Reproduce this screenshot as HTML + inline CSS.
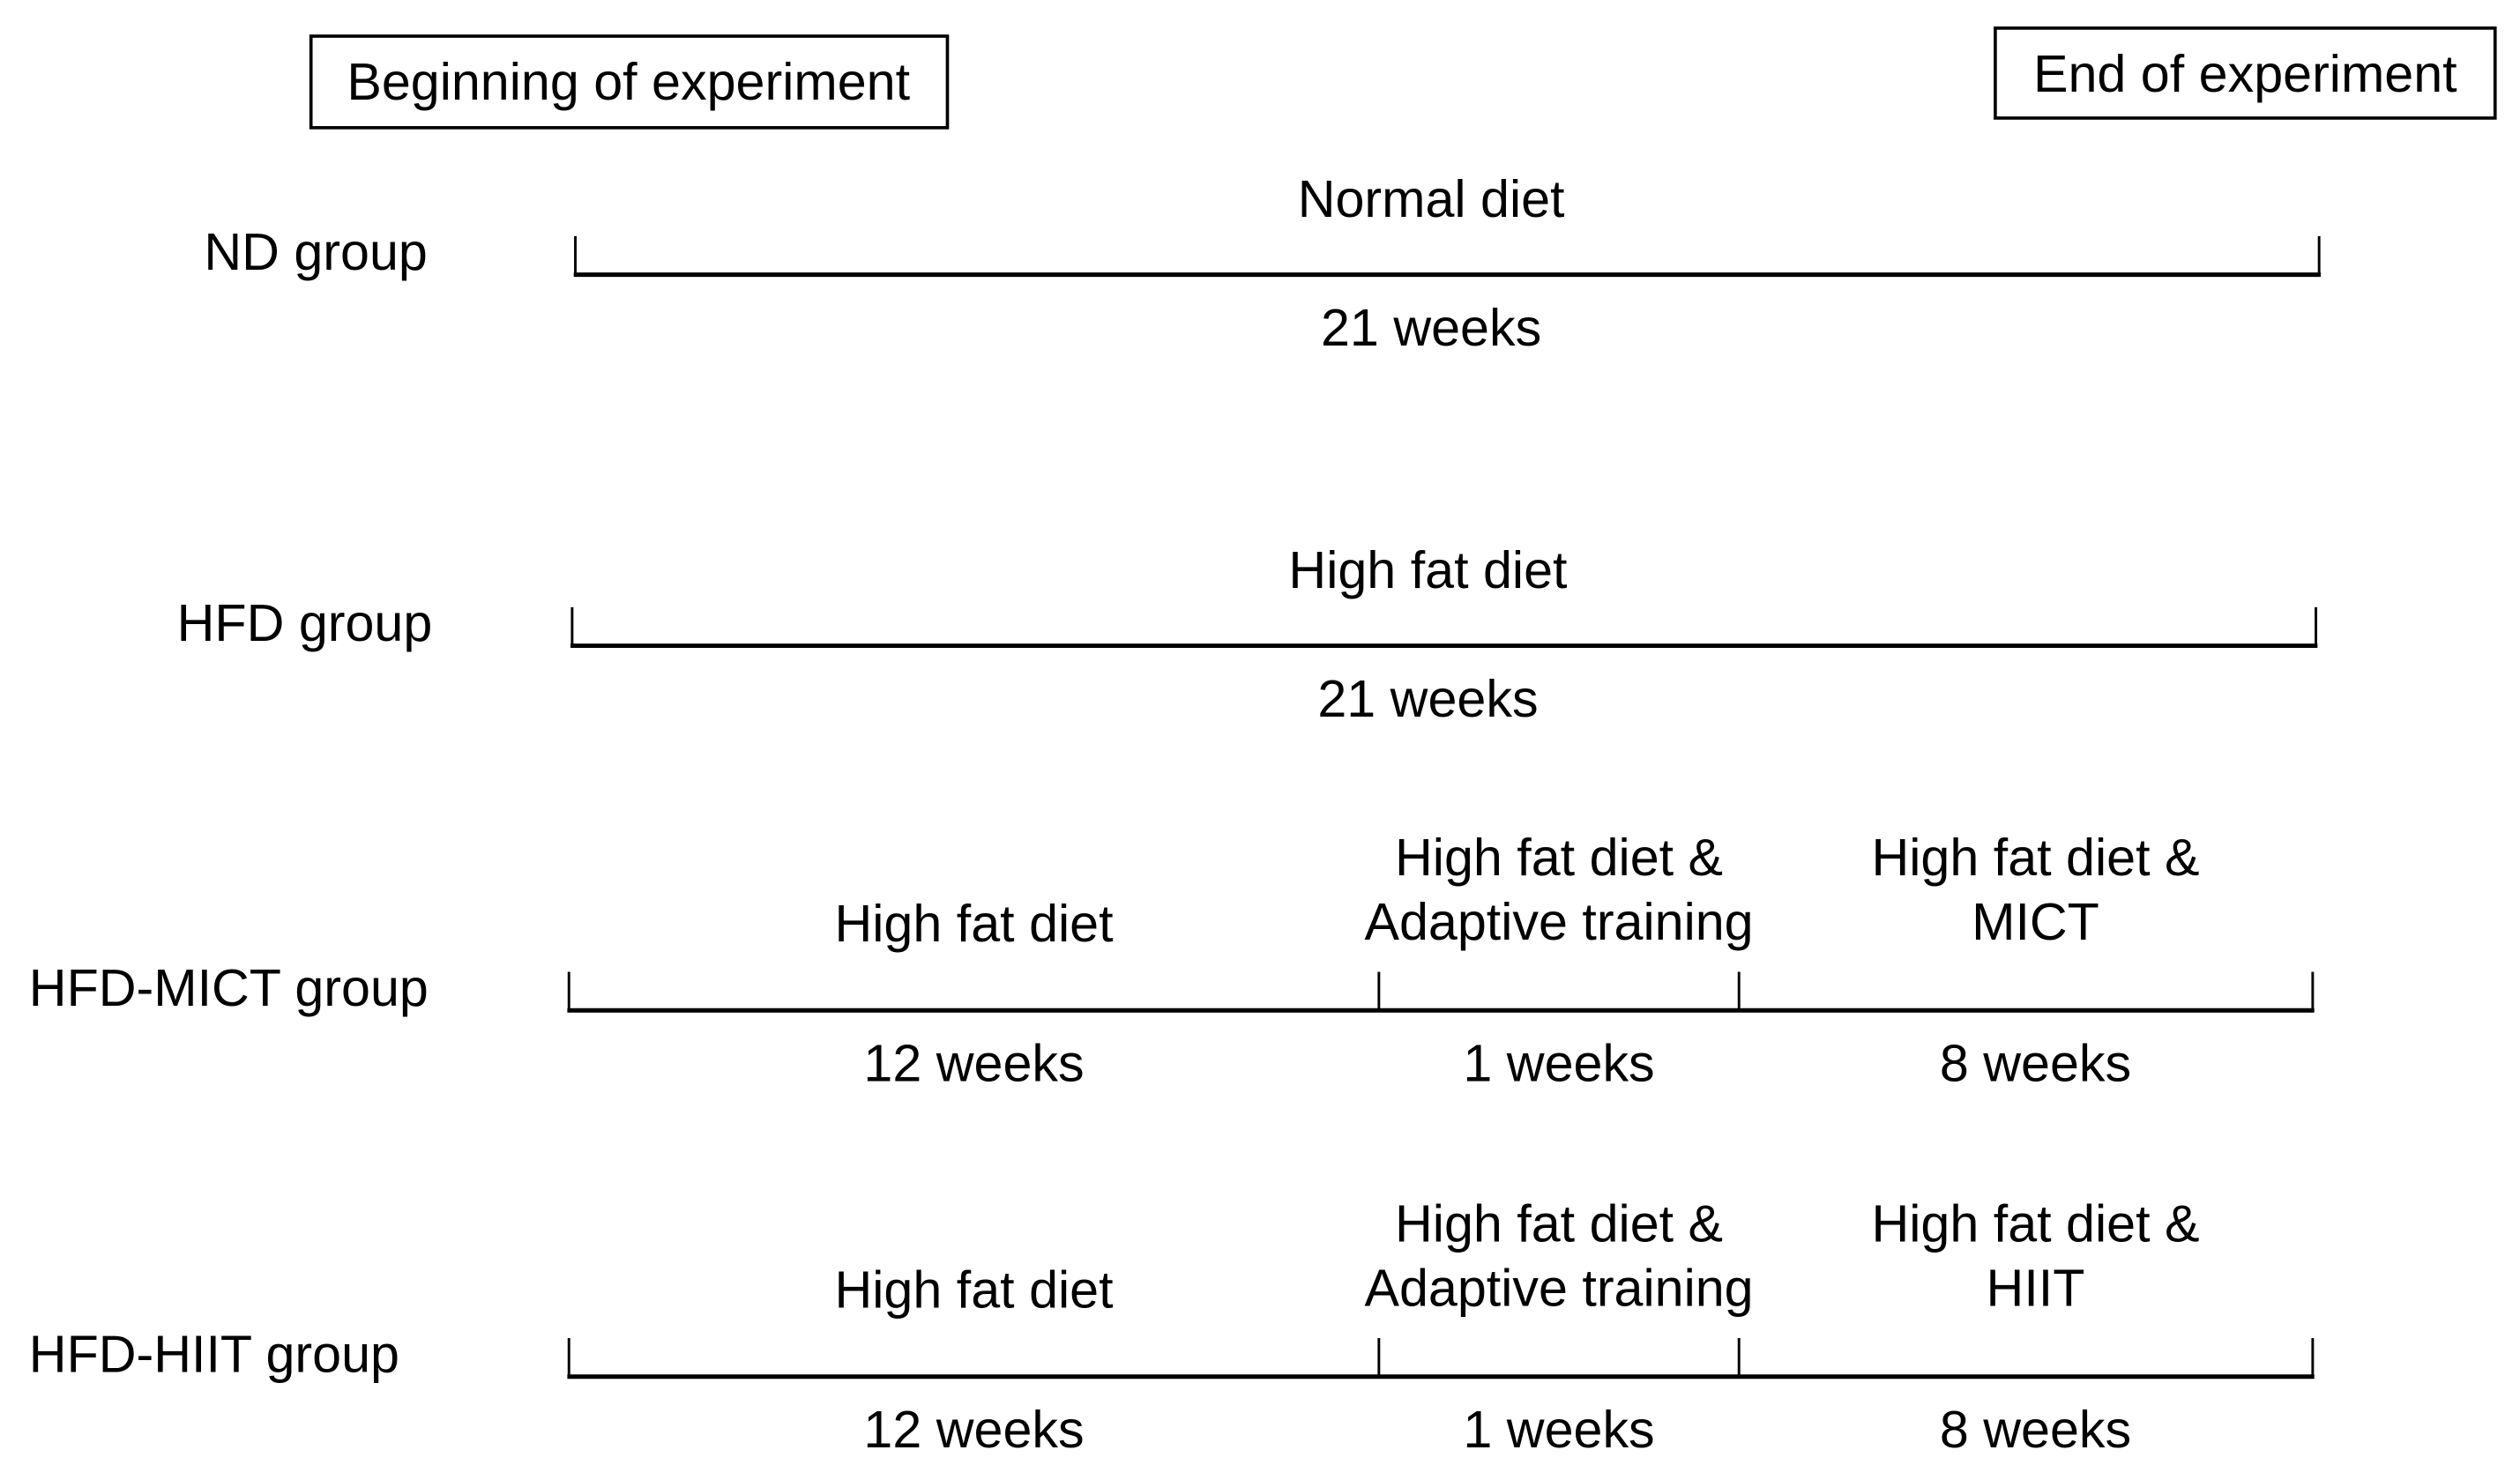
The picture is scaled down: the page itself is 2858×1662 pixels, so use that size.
<!DOCTYPE html>
<html><head><meta charset="utf-8"><style>
html,body{margin:0;padding:0;background:#fff;}
svg{display:block;}
text{font-family:"Liberation Sans",Arial,sans-serif;font-size:32.5px;fill:#000;}
</style></head><body>
<svg id="chart" width="2858" height="1662" viewBox="0 0 1568 912" preserveAspectRatio="none" xmlns="http://www.w3.org/2000/svg">
<rect x="193.5" y="22.5" width="396" height="57" fill="none" stroke="#000" stroke-width="2"/>
<text x="391" y="62" text-anchor="middle">Beginning of experiment</text>
<rect x="1241.5" y="17.5" width="311" height="56" fill="none" stroke="#000" stroke-width="2"/>
<text x="1397" y="57" text-anchor="middle">End of experiment</text>
<g id="rows"></g>
</svg>
<script>
// data
const groupNames = ["ND group","HFD group","HFD-MICT group","HFD-HIIT group"];
const segmentWeeks = [[21],[21],[12,1,8],[12,1,8]];
const weekLabels = [["21 weeks"],["21 weeks"],["12 weeks","1 weeks","8 weeks"],["12 weeks","1 weeks","8 weeks"]];
const phaseLabels = [[["Normal diet"]],[["High fat diet"]],[["High fat diet"],["High fat diet &","Adaptive training"],["High fat diet &","MICT"]],[["High fat diet"],["High fat diet &","Adaptive training"],["High fat diet &","HIIT"]]];

const ns="http://www.w3.org/2000/svg";
const g=document.getElementById('rows');
const rowY=[171,402,629,857];
const rowX0=[358,356,354,354], rowX1=[1443,1441,1439,1439];
// drawing is not to scale: each segment gets a fixed display share (layout, not data)
const segShare3=[0.4645,0.2065,0.329];
function mk(t,a){const e=document.createElementNS(ns,t);for(const k in a)e.setAttribute(k,a[k]);g.appendChild(e);return e;}
groupNames.forEach((name,i)=>{
  const y=rowY[i];
  const lbl=mk('text',{x: i<2 ? (i==0?266:269) : 18, y:y-3, 'text-anchor': i<2?'end':'start'});
  lbl.textContent=name;
  
  
  const n=segmentWeeks[i].length;
  const shares = n==3 ? segShare3 : segmentWeeks[i].map(()=>1/n);
  const W=rowX1[i]-rowX0[i];
  const xs=[rowX0[i]];
  shares.forEach(s=>xs.push(xs[xs.length-1]+s*W));
  const ln=mk('line',{x1:rowX0[i]-1,x2:rowX1[i]+1,y1:y,y2:y,stroke:'#000','stroke-width':2.7});
  
  
  xs.forEach(x=>{
    const t=mk('line',{x1:x,x2:x,y1:y-24,y2:y,stroke:'#000','stroke-width':1.6});
    
    
  });
  segmentWeeks[i].forEach((w,j)=>{
    const cx=(xs[j]+xs[j+1])/2 + (n==1?-10:(j==2?6:0));
    const wl=mk('text',{x:cx,y:y+44,'text-anchor':'middle'});
    wl.textContent=weekLabels[i][j];
    
    
    const lines=phaseLabels[i][j];
    lines.forEach((s,k)=>{
      const base = lines.length==1 ? (i<2 ? y-36 : y-43) : y-84+k*40;
      const pl=mk('text',{x:cx,y:base,'text-anchor':'middle'});
      pl.textContent=s;
      
      
    });
  });
});
</script>
</body></html>
